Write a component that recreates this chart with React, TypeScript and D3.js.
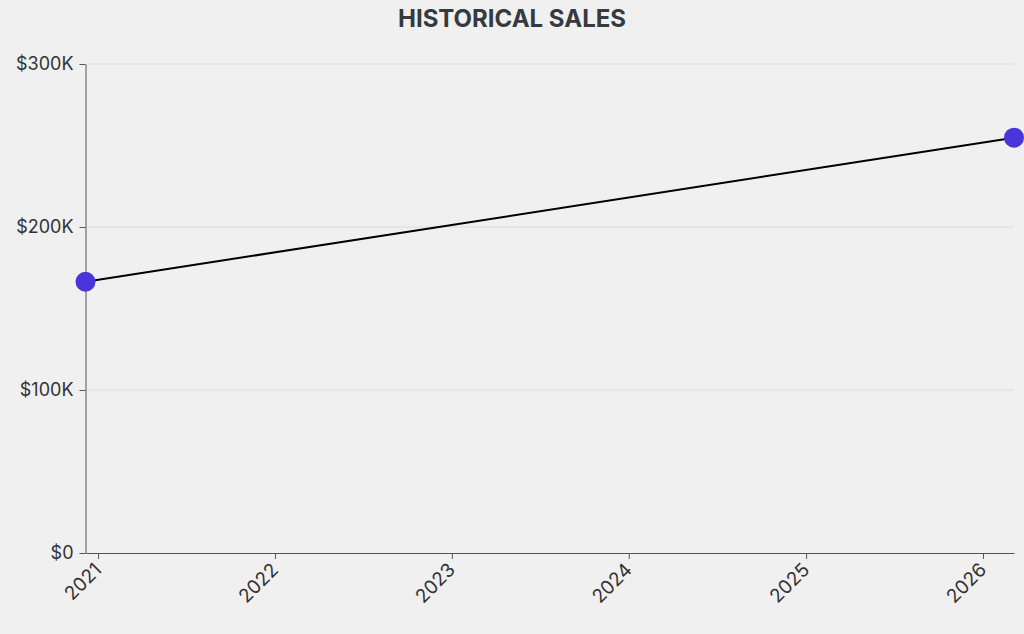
import React, { useEffect, useRef } from "react";
import * as d3 from "d3";

const dates = ["2020-12-06", "2026-03-06"];
const sales = [166400, 254800];
const yTicks = [0, 100000, 200000, 300000];
const title = "HISTORICAL SALES";

const W = 1024;
const H = 634;
const margin = { top: 64, right: 10, bottom: 81, left: 85.5 };

export default function App() {
  const ref = useRef<SVGSVGElement | null>(null);
  useEffect(() => {
    const svg = d3.select(ref.current);
    svg.selectAll("*").remove();
    const parse = d3.utcParse("%Y-%m-%d");
    const data = dates.map((d, i) => ({ date: parse(d) as Date, value: sales[i] }));

    svg.append("rect").attr("width", W).attr("height", H).attr("fill", "#f0f0f0");

    const x = d3
      .scaleUtc()
      .domain(d3.extent(data, (d) => d.date) as [Date, Date])
      .range([margin.left, W - margin.right]);
    const y = d3.scaleLinear().domain([0, 300000]).range([H - margin.bottom, margin.top]);

    svg
      .append("text")
      .attr("x", W / 2)
      .attr("y", 27)
      .attr("text-anchor", "middle")
      .attr("font-family", "Inter, sans-serif")
      .attr("font-weight", 700)
      .attr("font-size", 24)
      .attr("fill", "#353a3e")
      .text(title);

    // grid
    svg
      .append("g")
      .selectAll("line")
      .data(yTicks.filter((t) => t > 0))
      .join("line")
      .attr("x1", margin.left)
      .attr("x2", W - margin.right)
      .attr("y1", (d) => y(d))
      .attr("y2", (d) => y(d))
      .attr("stroke", "#dcdcdc")
      .attr("stroke-width", 1);

    const yAxis = svg
      .append("g")
      .attr("transform", `translate(${margin.left},0)`)
      .call(
        d3
          .axisLeft(y)
          .tickValues(yTicks)
          .tickSizeOuter(0)
          .tickPadding(6)
          .tickFormat((d) => {
            const v = +d;
            return v === 0 ? "$0" : `$${v / 1000}K`;
          })
      );
    yAxis.selectAll("text").attr("font-size", 18).attr("font-family", "Inter, sans-serif").attr("fill", "#333");
    yAxis.selectAll("line, path").attr("stroke", "#555");

    const xAxis = svg
      .append("g")
      .attr("transform", `translate(0,${H - margin.bottom})`)
      .call(
        d3
          .axisBottom(x)
          .ticks(d3.utcYear.every(1))
          .tickSizeOuter(0)
          .tickFormat((d) => d3.utcFormat("%Y")(d as Date))
      );
    xAxis.selectAll("line, path").attr("stroke", "#555");
    xAxis
      .selectAll("text")
      .attr("font-size", 19)
      .attr("font-family", "Inter, sans-serif")
      .attr("fill", "#333")
      .attr("text-anchor", "end")
      .attr("x", 0)
      .attr("y", 0)
      .attr("dy", 0)
      .attr("transform", "translate(4,18) rotate(-45)");

    const line = d3
      .line<{ date: Date; value: number }>()
      .x((d) => x(d.date))
      .y((d) => y(d.value));
    svg
      .append("path")
      .datum(data)
      .attr("d", line)
      .attr("fill", "none")
      .attr("stroke", "#000")
      .attr("stroke-width", 2);

    svg
      .append("g")
      .selectAll("circle")
      .data(data)
      .join("circle")
      .attr("cx", (d) => x(d.date))
      .attr("cy", (d) => y(d.value))
      .attr("r", 10)
      .attr("fill", "#4936db");
  }, []);
  return (
    <svg
      ref={ref}
      width={W}
      height={H}
      style={{ position: "absolute", left: 0, top: 0, display: "block" }}
    />
  );
}
